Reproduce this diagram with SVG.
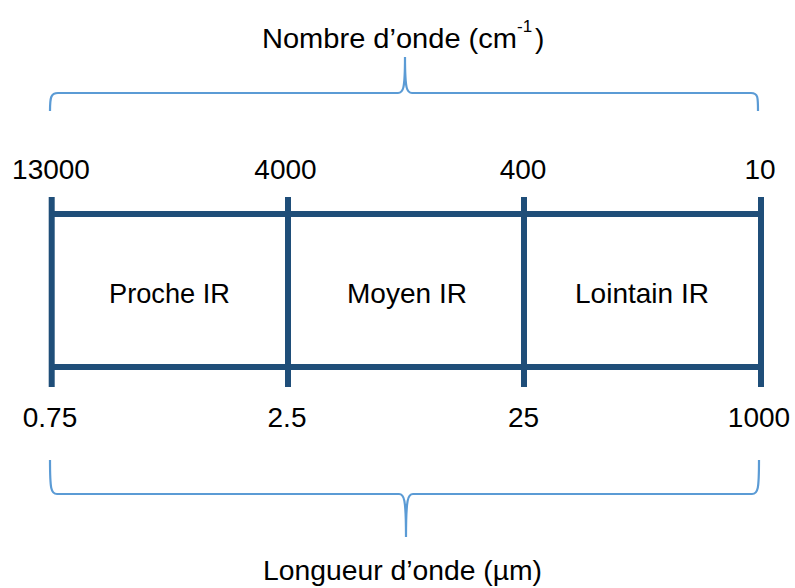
<svg xmlns="http://www.w3.org/2000/svg" width="795" height="588" viewBox="0 0 795 588">
<style>
text{font-family:"Liberation Sans",Arial,sans-serif;font-size:28px;fill:#000}
.c{text-anchor:middle}
.grid{stroke:#1F4E79;stroke-width:6;fill:none}
.brace{stroke:#5B9BD5;stroke-width:2.2;fill:none}
</style>
<rect width="795" height="588" fill="#fff"/>
<g id="connectors">
<path class="brace" d="M50,111 C50,97 51,93 58,93 L398,93 C403,93 405,90 405,57 C405,90 407,93 412,93 L751,93 C758,93 758,97 758,111"/>
<path class="brace" d="M50,460 C50,489 51,494 57,494 L399,494 C404,494 406,498 406,537 C406,498 408,494 413,494 L752,494 C758,494 759,489 759,460"/>
</g>
<g id="scale">
<line class="grid" x1="51.7" y1="197" x2="51.7" y2="387"/>
<line class="grid" x1="288" y1="197" x2="288" y2="387"/>
<line class="grid" x1="524" y1="197" x2="524" y2="387"/>
<line class="grid" x1="761" y1="197" x2="761" y2="387"/>
<line class="grid" x1="52" y1="214" x2="761" y2="214"/>
<line class="grid" x1="52" y1="367" x2="761" y2="367"/>
</g>
<g id="proche"><text class="c" x="169.5" y="303" textLength="121" lengthAdjust="spacingAndGlyphs">Proche IR</text></g>
<g id="moyen"><text class="c" x="407" y="303" textLength="120" lengthAdjust="spacingAndGlyphs">Moyen IR</text></g>
<g id="lointain"><text class="c" x="642" y="303" textLength="134" lengthAdjust="spacingAndGlyphs">Lointain IR</text></g>
<g id="wavenumbers">
<text class="c" x="51" y="179">13000</text>
<text class="c" x="285.5" y="179">4000</text>
<text class="c" x="523" y="179">400</text>
<text class="c" x="760" y="179">10</text>
</g>
<g id="wavelengths">
<text class="c" x="50" y="427">0.75</text>
<text class="c" x="287" y="427">2.5</text>
<text class="c" x="523.5" y="427">25</text>
<text class="c" x="759" y="427">1000</text>
</g>
<g id="title-top">
<text x="262" y="48" textLength="255" lengthAdjust="spacingAndGlyphs">Nombre d’onde (cm</text>
<text x="517" y="32" style="font-size:17px">-1</text>
<text x="535" y="48">)</text>
</g>
<g id="title-bottom"><text class="c" x="402.5" y="580" textLength="279" lengthAdjust="spacingAndGlyphs">Longueur d’onde (µm)</text></g>
</svg>
